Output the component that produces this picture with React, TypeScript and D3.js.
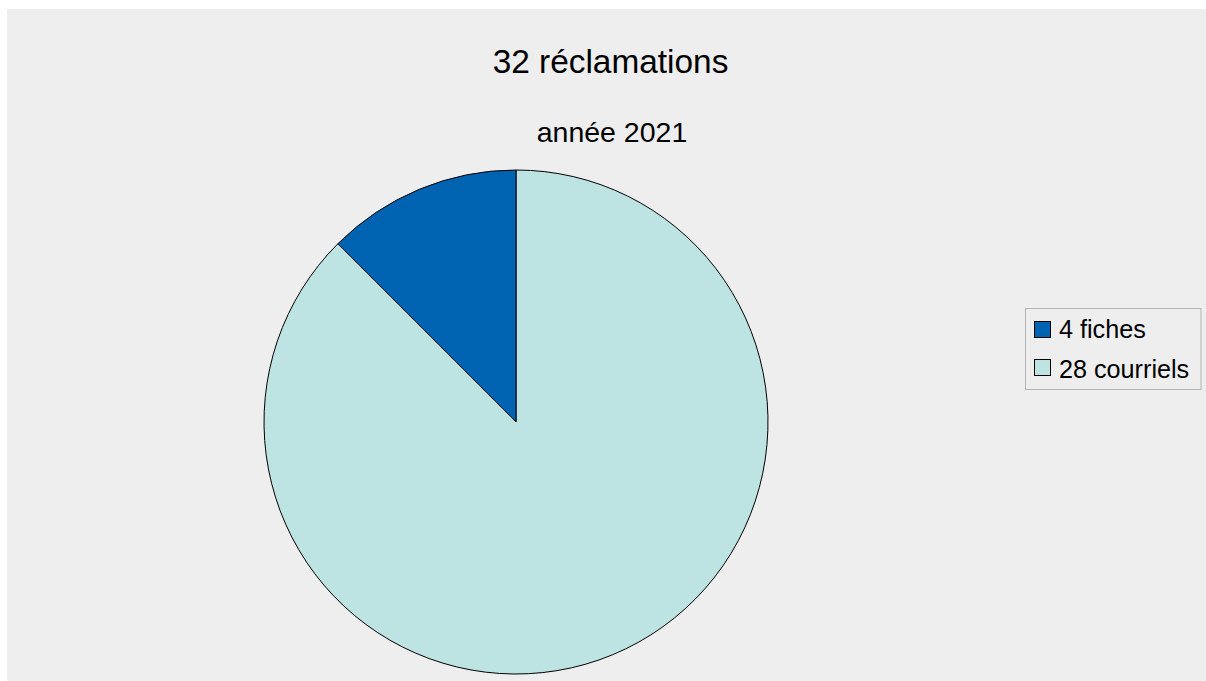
import React from "react";
import * as d3 from "d3";

const categories = ["4 fiches", "28 courriels"];
const values = [4, 28];
const colors = ["#0063b1", "#bde3e3"];
const title = "32 réclamations";
const subtitle = "année 2021";

export default function App() {
  const W = 1206, H = 681;
  const cx = 516, cy = 422, r = 252;
  // pie ordered so "fiches" ends at 12 o'clock going clockwise
  const order = [1, 0];
  const pie = d3.pie<number>().sort(null).value((i) => values[i]);
  const arcs = pie(order);
  const arc = d3.arc<d3.PieArcDatum<number>>().innerRadius(0).outerRadius(r);
  const font = "'Liberation Sans', Arial, sans-serif";
  return (
    <svg width={W} height={H} style={{ position: "absolute", left: 0, top: 0 }}>
      <rect x={7} y={9} width={W - 7} height={H - 9} fill="#eeeeee" />
      <text x={610.5} y={73} textAnchor="middle" fontFamily={font} fontSize={33.4} fill="#000">{title}</text>
      <text x={612} y={142} textAnchor="middle" fontFamily={font} fontSize={28.5} fill="#000">{subtitle}</text>
      <g transform={`translate(${cx},${cy})`}>
        {arcs.map((a) => (
          <path key={a.data} d={arc(a) || ""} fill={colors[a.data]} stroke="#000" strokeWidth={1} />
        ))}
      </g>
      <rect x={1025.5} y={308.5} width={175.5} height={81} fill="none" stroke="#b3b3b3" strokeWidth={1} />
      {categories.map((c, i) => (
        <g key={c}>
          <rect x={1034.5} y={321.5 + i * 38} width={16} height={16} fill={colors[i]} stroke="#000" strokeWidth={1} />
          <text x={1059} y={338 + i * 39.5} fontFamily={font} fontSize={25.2} fill="#000">{c}</text>
        </g>
      ))}
    </svg>
  );
}
